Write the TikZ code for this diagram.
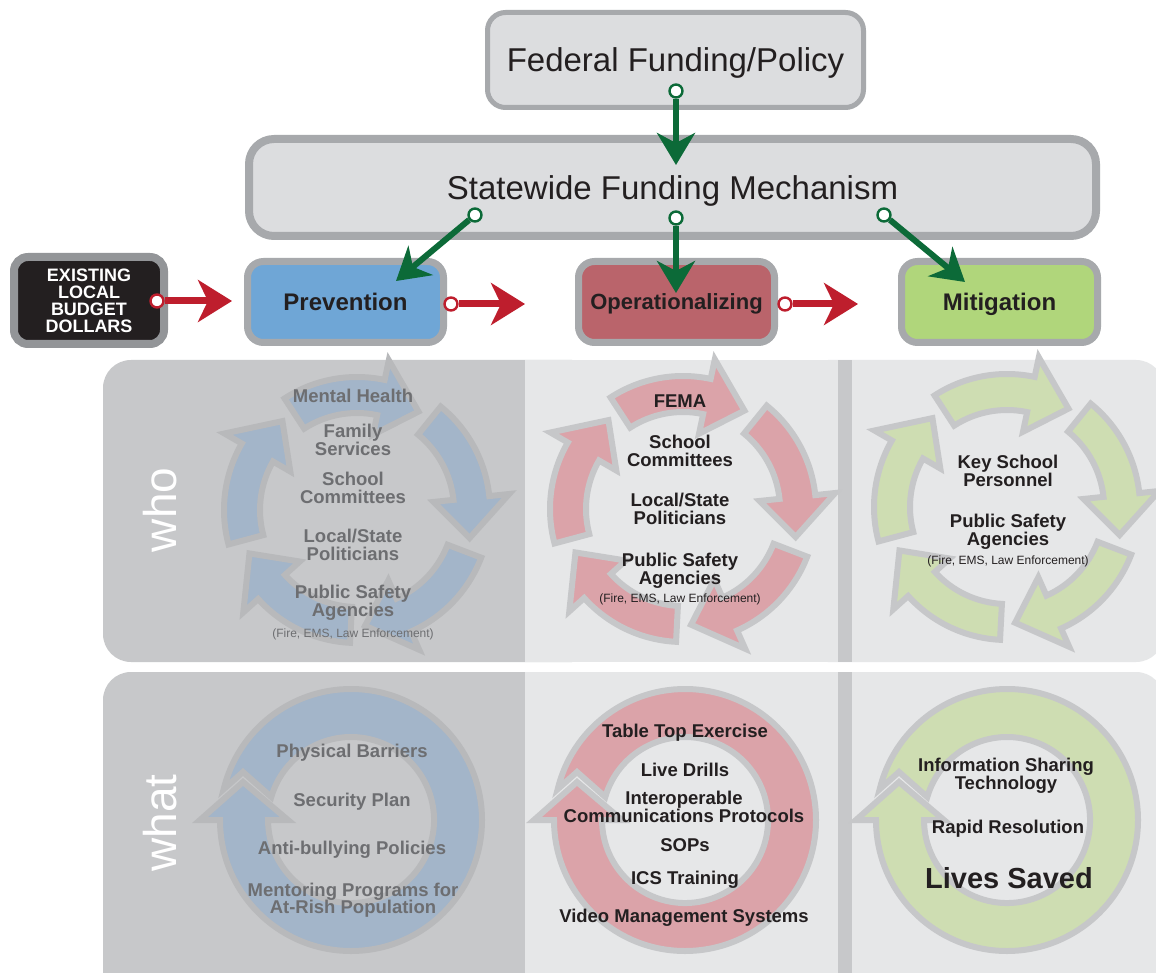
\documentclass[tikz,border=0pt]{standalone}
\usepackage{fontspec}
\setmainfont{Liberation Sans}
\usetikzlibrary{arrows.meta,positioning}
\definecolor{BoxLine}{RGB}{167,169,172}
\definecolor{BoxFill}{RGB}{220,221,223}
\definecolor{BudgetLine}{RGB}{147,149,152}
\definecolor{BudgetFill}{RGB}{35,31,32}
\definecolor{PrevBlue}{RGB}{111,166,214}
\definecolor{OperRed}{RGB}{186,100,107}
\definecolor{MitiGreen}{RGB}{176,214,123}
\definecolor{ArrowGreen}{RGB}{12,106,56}
\definecolor{ArrowRed}{RGB}{190,30,45}
\definecolor{PanelDark}{RGB}{199,200,202}
\definecolor{PanelLight}{RGB}{230,231,232}
\definecolor{CycBlue}{RGB}{163,181,201}
\definecolor{CycRed}{RGB}{219,163,169}
\definecolor{CycGreen}{RGB}{206,221,178}
\definecolor{CycLineD}{RGB}{184,185,187}
\definecolor{CycLineL}{RGB}{198,199,201}
\definecolor{TextGray}{RGB}{109,110,113}
\definecolor{TextDark}{RGB}{35,31,32}
% one curved arrow of a who cycle: centre x, centre y, tip angle, style
\newcommand{\whoarrow}[4]{%
  \draw[#4, shift={(#1,#2)}] ({#3+65}:133) arc[start angle={#3+65}, end angle={#3+20}, radius=133]
    -- ({#3+20}:153) -- (#3:116) -- ({#3+20}:77) -- ({#3+20}:97)
    arc[start angle={#3+20}, end angle={#3+65}, radius=97] -- cycle;}
% the ring arrow of a what panel: centre x, centre y, style
\newcommand{\whatring}[3]{%
  \draw[#3, shift={(#1,#2)}] (-108,38) -- (-151,0) -- (-131,0)
    arc[start angle=180, end angle=526.4, radius=131] -- (-108,48) -- (-79.7,23)
    arc[start angle=523.9, end angle=180, radius=83] -- (-63,0) -- cycle;}
\begin{document}
\begin{tikzpicture}[x=1pt, y=1pt,
    box/.style={draw=BoxLine, rounded corners=16pt, inner sep=0pt, text=TextDark, text depth=0pt},
    fund/.style={box, fill=BoxFill, font=\fontsize{33}{33}\selectfont},
    stage/.style={box, line width=7pt, minimum width=196pt, minimum height=81pt, font=\bfseries\fontsize{24}{24}\selectfont},
    port/.style={circle, fill=white, line width=2.4pt, minimum size=13pt, inner sep=0pt},
    greenport/.style={port, draw=ArrowGreen},
    redport/.style={port, draw=ArrowRed},
    greenarrow/.style={ArrowGreen, line width=6pt, -{Stealth[length=32pt, width=38pt, inset=10pt]}},
    redarrow/.style={ArrowRed, line width=7pt, -{Stealth[length=34pt, width=42pt, inset=10pt]}},
    bluecyc/.style={fill=CycBlue, draw=CycLineD, line width=6pt, line join=miter},
    redcyc/.style={fill=CycRed, draw=CycLineL, line width=6pt, line join=miter},
    greencyc/.style={fill=CycGreen, draw=CycLineL, line width=6pt, line join=miter},
    sidelabel/.style={rotate=90, text=white, font=\fontsize{46}{46}\selectfont},
    label/.style={align=center, text=TextDark, inner sep=1pt, font=\bfseries\fontsize{18.5}{17.5}\selectfont},
    graylabel/.style={label, text=TextGray},
    small/.style={align=center, text=TextDark, inner sep=1pt, font=\fontsize{12}{12}\selectfont},
    graysmall/.style={small, text=TextGray}]
  \useasboundingbox (0,0) rectangle (1156,-973);
  \clip (0,0) rectangle (1156,-973);
  \fill[white] (0,0) rectangle (1156,-973);

  % panels
  \fill[PanelDark, rounded corners=28pt] (103,-360) rectangle (600,-662);
  \fill[PanelLight, rounded corners=28pt] (800,-360) rectangle (1164,-662);
  \fill[PanelLight] (525,-360) rectangle (838,-662);
  \fill[PanelDark] (838,-360) rectangle (852,-662);
  \fill[PanelDark, rounded corners=28pt] (103,-672) rectangle (600,-1010);
  \fill[PanelLight, rounded corners=28pt] (800,-672) rectangle (1164,-1010);
  \fill[PanelLight] (525,-672) rectangle (838,-1010);
  \fill[PanelDark] (838,-672) rectangle (852,-1010);
  \node[sidelabel] (who) at (160,-510) {who};
  \node[sidelabel] (what) at (160,-823) {what};

  % who cycles
  \whoarrow{357}{-510}{130}{bluecyc}
  \whoarrow{357}{-510}{58}{bluecyc}
  \whoarrow{357}{-510}{-14}{bluecyc}
  \whoarrow{357}{-510}{-86}{bluecyc}
  \whoarrow{357}{-510}{-158}{bluecyc}
  \whoarrow{683}{-509}{130}{redcyc}
  \whoarrow{683}{-509}{58}{redcyc}
  \whoarrow{683}{-509}{-14}{redcyc}
  \whoarrow{683}{-509}{-86}{redcyc}
  \whoarrow{683}{-509}{-158}{redcyc}
  \whoarrow{1007}{-507}{130}{greencyc}
  \whoarrow{1007}{-507}{58}{greencyc}
  \whoarrow{1007}{-507}{-14}{greencyc}
  \whoarrow{1007}{-507}{-86}{greencyc}
  \whoarrow{1007}{-507}{-158}{greencyc}

  % what rings
  \whatring{351}{-820}{bluecyc}
  \whatring{685}{-820}{redcyc}
  \whatring{1007}{-820}{greencyc}

  % who texts
  \node[graylabel] (mental) at (353,-396) {Mental Health};
  \node[graylabel] (family) at (353,-440) {Family\\Services};
  \node[graylabel] (schoolP) at (353,-488) {School\\Committees};
  \node[graylabel] (politP) at (353,-545) {Local/State\\Politicians};
  \node[graylabel] (safetyP) at (353,-603) {Public Safety\\Agencies};
  \node[graysmall] (fireP) at (353,-634) {(Fire, EMS, Law Enforcement)};
  \node[label] (fema) at (680,-401) {FEMA};
  \node[label] (schoolO) at (680,-451) {School\\Committees};
  \node[label] (politO) at (680,-509) {Local/State\\Politicians};
  \node[label] (safetyO) at (680,-571) {Public Safety\\Agencies};
  \node[small] (fireO) at (680,-599) {(Fire, EMS, Law Enforcement)};
  \node[label] (keyM) at (1008,-471) {Key School\\Personnel};
  \node[label] (safetyM) at (1008,-532) {Public Safety\\Agencies};
  \node[small] (fireM) at (1008,-561) {(Fire, EMS, Law Enforcement)};

  % what texts
  \node[graylabel] (barriers) at (352,-753) {Physical Barriers};
  \node[graylabel] (secplan) at (352,-802) {Security Plan};
  \node[graylabel] (bullying) at (352,-850) {Anti-bullying Policies};
  \node[graylabel] (mentoring) at (353,-900) {Mentoring Programs for\\At-Rish Population};
  \node[label] (tabletop) at (685,-733) {Table Top Exercise};
  \node[label] (drills) at (685,-770) {Live Drills};
  \node[label] (interop) at (684,-807) {Interoperable\\Communications Protocols};
  \node[label] (sops) at (685,-845) {SOPs};
  \node[label] (ics) at (685,-880) {ICS Training};
  \node[label] (video) at (684,-918) {Video Management Systems};
  \node[label] (infoshare) at (1006,-776) {Information Sharing\\Technology};
  \node[label] (rapid) at (1008,-829) {Rapid Resolution};
  \node[label, font=\bfseries\fontsize{29}{29}\selectfont] (saved) at (1009,-878) {Lives Saved};

  % funding boxes
  \node[fund, line width=5pt, minimum width=376pt, minimum height=95pt, rounded corners=18pt] (fed) at (675.5,-60) {Federal Funding/Policy};
  \node[fund, line width=8pt, minimum width=847pt, minimum height=97pt, rounded corners=25pt] (state) at (672.5,-187.5) {Statewide Funding Mechanism};

  % stage boxes
  \node[box, draw=BudgetLine, fill=BudgetFill, line width=8pt, minimum width=150pt, minimum height=87pt, rounded corners=14pt,
        text=white, text depth=, align=center, font=\bfseries\fontsize{18}{17}\selectfont] (budget) at (89,-300.5) {EXISTING\\LOCAL\\BUDGET\\DOLLARS};
  \node[stage, fill=PrevBlue] (prev) at (345.5,-302) {Prevention};
  \node[stage, fill=OperRed, font=\bfseries\fontsize{22}{22}\selectfont] (oper) at (676.5,-302) {Operationalizing};
  \node[stage, fill=MitiGreen] (miti) at (999.5,-302) {Mitigation};

  % ports and arrow ends
  \node[greenport] (fedport) at (676,-91) {};
  \node[greenport] (stateL) at (475,-215) {};
  \node[greenport] (stateM) at (676,-218) {};
  \node[greenport] (stateR) at (884,-215) {};
  \node[redport] (budgetport) at (157,-301) {};
  \node[redport] (prevport) at (451,-304) {};
  \node[redport] (operport) at (785,-304) {};
  \coordinate (stateIn) at (676,-165);
  \coordinate (prevIn) at (396,-281);
  \coordinate (operIn) at (676,-293);
  \coordinate (mitiIn) at (965,-282);
  \coordinate (prevLeft) at (232,-301);
  \coordinate (operLeft) at (525,-304);
  \coordinate (mitiLeft) at (858,-304);

  % connectors
  \draw[greenarrow] (fedport) -- (stateIn);
  \draw[greenarrow] (stateL) -- (prevIn);
  \draw[greenarrow] (stateM) -- (operIn);
  \draw[greenarrow] (stateR) -- (mitiIn);
  \draw[redarrow] (budgetport) -- (prevLeft);
  \draw[redarrow] (prevport) -- (operLeft);
  \draw[redarrow] (operport) -- (mitiLeft);
\end{tikzpicture}
\end{document}
